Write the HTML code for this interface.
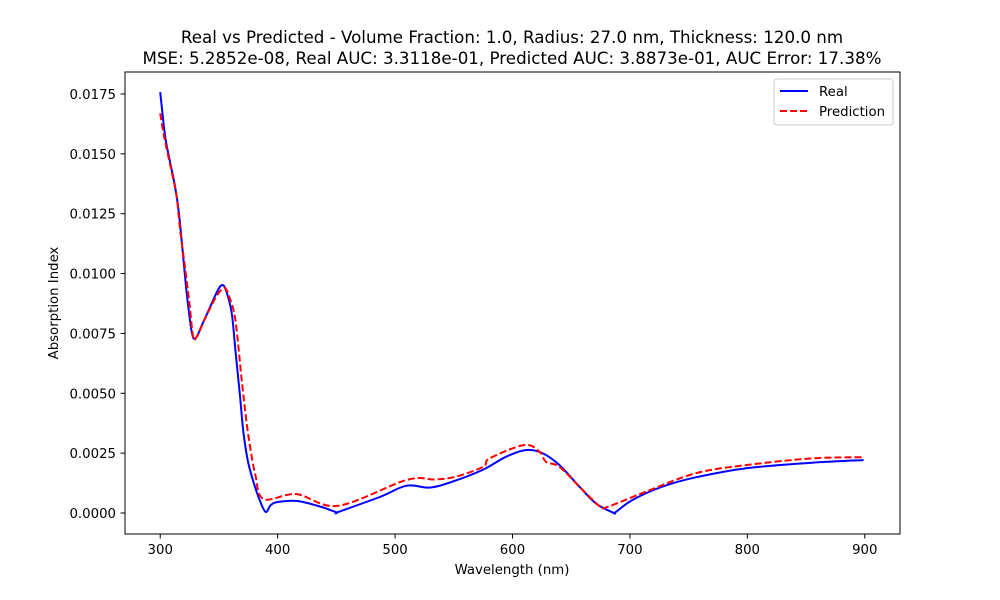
<!DOCTYPE html>
<html><head><meta charset="utf-8"><style>
body{margin:0;background:#fff;}
svg{display:block;font-family:"DejaVu Sans","Liberation Sans",sans-serif;}
</style></head><body>
<svg id="chart" width="1000" height="600" viewBox="0 0 1000 600" xmlns="http://www.w3.org/2000/svg">
<rect width="1000" height="600" fill="#fff"/>
<text x="512" y="43" font-size="16.7" text-anchor="middle">Real vs Predicted - Volume Fraction: 1.0, Radius: 27.0 nm, Thickness: 120.0 nm</text>
<text x="512" y="64" font-size="16.7" text-anchor="middle">MSE: 5.2852e-08, Real AUC: 3.3118e-01, Predicted AUC: 3.8873e-01, AUC Error: 17.38%</text>
<g id="xticks"></g>
<g id="yticks"></g>
<g id="series"></g>
<rect x="125" y="72" width="775" height="462" fill="none" stroke="#000" stroke-width="1"/>
<text x="512" y="574" font-size="13.3" text-anchor="middle">Wavelength (nm)</text>
<text transform="translate(58,303) rotate(-90)" font-size="13.3" text-anchor="middle">Absorption Index</text>
<g>
<rect x="774" y="79" width="119" height="46" rx="3" fill="#fff" stroke="#ccc"/>
<line x1="780" y1="91" x2="808" y2="91" stroke="#0000ff" stroke-width="2"/>
<text x="819" y="96" font-size="13.3">Real</text>
<line x1="780" y1="111" x2="808" y2="111" stroke="#ff0000" stroke-width="2" stroke-dasharray="7,3"/>
<text x="819" y="116" font-size="13.3">Prediction</text>
</g>
</svg>
<script>
const xTicks=[300,400,500,600,700,800,900];
const yTicks=[0,0.0025,0.005,0.0075,0.01,0.0125,0.015,0.0175];
const yTickLabels=["0.0000","0.0025","0.0050","0.0075","0.0100","0.0125","0.0150","0.0175"];
const realW=[300,304,308,312.7,316,319.8,323,327,330.3,336,342,348,352.4,356,360.9,364,368,371,375,380,385,389.8,394,400,417,437.4,450,452,487,509.7,529.5,549,574.5,594.6,611.6,625.5,640,657,671,686,688,702,727.5,756,799,855,899];
const realV=[0.01758,0.0158,0.01475,0.01362,0.0125,0.01057,0.0090,0.00752,0.00731,0.0079,0.00855,0.0092,0.00952,0.0093,0.00835,0.0068,0.00485,0.0033,0.00209,0.0012,0.0005,0.00004,0.00032,0.00046,0.0005,0.00025,0.00003,0.00005,0.00067,0.00114,0.00106,0.00131,0.0018,0.00235,0.00263,0.0025,0.002,0.0011,0.0004,0.00001,0.00004,0.00054,0.0011,0.00149,0.00187,0.0021,0.00221];
const predW=[300,303,307,310,314,317,321,325,328,331,338,345,350,355,359,364,369.4,373,376.5,381,388,416,451.5,509.7,534,552,575,580.5,610,623,628.5,640,657,674,680,713.5,756,799,855,899];
const predV=[0.01669,0.0158,0.01488,0.0142,0.01321,0.0118,0.01029,0.0087,0.00736,0.00735,0.0081,0.0088,0.0092,0.0094,0.0090,0.00806,0.00555,0.0040,0.00277,0.0016,0.00058,0.00079,0.0003,0.00138,0.0014,0.00152,0.00193,0.00228,0.00284,0.00256,0.00214,0.00193,0.0011,0.00029,0.00024,0.00089,0.00166,0.002,0.00228,0.00233];
const NS="http://www.w3.org/2000/svg";
const X=w=>125+(w-270)*775/660;
const Y=v=>513-v*23944;
const xg=document.getElementById('xticks'),yg=document.getElementById('yticks'),sg=document.getElementById('series');
function mk(t,a,p){const e=document.createElementNS(NS,t);for(const k in a)e.setAttribute(k,a[k]);p.appendChild(e);return e;}
function smooth(ws,vs){
 const p=ws.map((w,i)=>[X(w),Y(vs[i])]);
 let d='M'+p[0][0].toFixed(1)+','+p[0][1].toFixed(1);
 for(let i=0;i<p.length-1;i++){
  const p0=p[Math.max(0,i-1)],p1=p[i],p2=p[i+1],p3=p[Math.min(p.length-1,i+2)];
  const c1=[p1[0]+(p2[0]-p0[0])/6,p1[1]+(p2[1]-p0[1])/6];
  const c2=[p2[0]-(p3[0]-p1[0])/6,p2[1]-(p3[1]-p1[1])/6];
  d+=' C'+c1.map(n=>n.toFixed(1)).join(',')+' '+c2.map(n=>n.toFixed(1)).join(',')+' '+p2[0].toFixed(1)+','+p2[1].toFixed(1);
 }
 return d;
}
xTicks.forEach(t=>{
 const l=mk('line',{x1:X(t),x2:X(t),y1:534,y2:538.5,stroke:'#000'},xg);
 
 
 const s=mk('text',{x:X(t),y:554,'font-size':13.3,'text-anchor':'middle'},xg);s.textContent=t;
 
 
});
yTicks.forEach((t,i)=>{
 const l=mk('line',{x1:120.5,x2:125,y1:Y(t),y2:Y(t),stroke:'#000'},yg);
 
 
 const s=mk('text',{x:116,y:Y(t)+5,'font-size':13.3,'text-anchor':'end'},yg);s.textContent=yTickLabels[i];
 
 
});
const rp=mk('path',{d:smooth(realW,realV),fill:'none',stroke:'#0000ff','stroke-width':2,'stroke-linejoin':'round'},sg);


const pp=mk('path',{d:smooth(predW,predV),fill:'none',stroke:'#ff0000','stroke-width':2,'stroke-dasharray':'7,3'},sg);


</script>
</body></html>
